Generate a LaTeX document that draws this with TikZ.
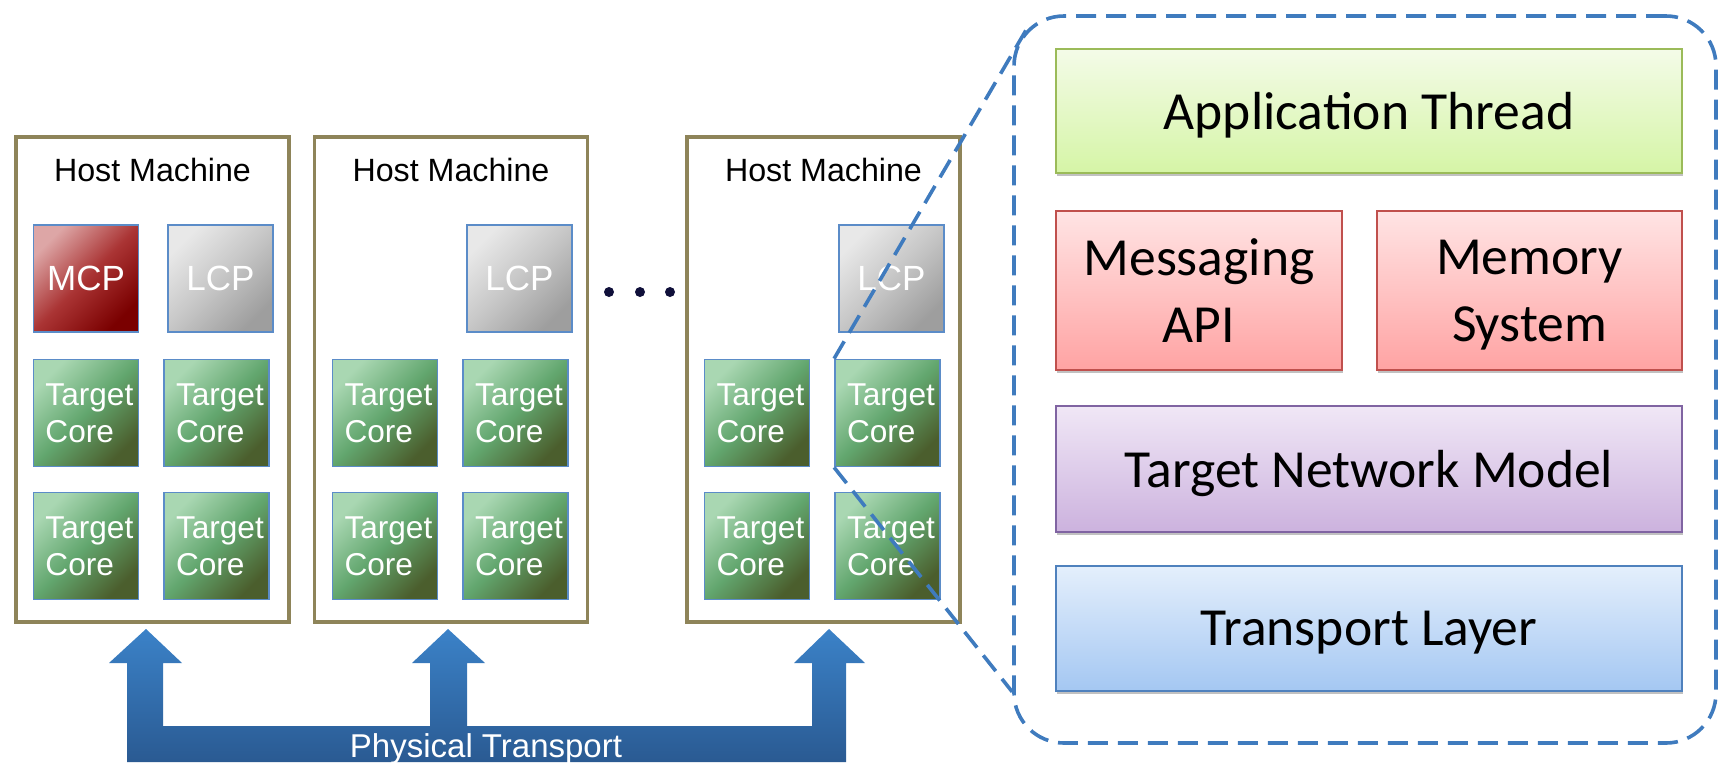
\documentclass[tikz,border=0pt]{standalone}
\usepackage{fontspec}
\setmainfont{Liberation Sans}
\newfontfamily\layerfont{Carlito}
\usetikzlibrary{shadows,calc}

\definecolor{hostline}{HTML}{8E8459}
\definecolor{tileline}{HTML}{5B8CC8}
\definecolor{coreA}{HTML}{A9D7B2}
\definecolor{coreB}{HTML}{62A66E}
\definecolor{coreC}{HTML}{4B5E2D}
\definecolor{mcpA}{HTML}{DDA6A6}
\definecolor{mcpB}{HTML}{AA3434}
\definecolor{mcpC}{HTML}{7A0000}
\definecolor{lcpA}{HTML}{E8E8E8}
\definecolor{lcpB}{HTML}{C6C6C6}
\definecolor{lcpC}{HTML}{9E9E9E}
\definecolor{zoomline}{HTML}{3F7BBE}
\definecolor{dotcol}{HTML}{10103A}
\definecolor{busA}{HTML}{3B82C8}
\definecolor{busB}{HTML}{2A5A92}
\definecolor{appline}{HTML}{9BBB59}
\definecolor{appA}{HTML}{F4FBE8}
\definecolor{appB}{HTML}{D5F5A6}
\definecolor{redline}{HTML}{C0504D}
\definecolor{redA}{HTML}{FFE4E4}
\definecolor{redB}{HTML}{FFA3A3}
\definecolor{purline}{HTML}{8064A2}
\definecolor{purA}{HTML}{F0E7F6}
\definecolor{purB}{HTML}{CCB2DE}
\definecolor{bluline}{HTML}{4F81BD}
\definecolor{bluA}{HTML}{E4EFFC}
\definecolor{bluB}{HTML}{A4C7F2}

\begin{document}
\begin{tikzpicture}[x=0.5pt,y=-0.5pt,
  host/.style={draw=hostline, line width=1.7pt, fill=white,
    minimum width=136.5pt, minimum height=242.5pt, inner sep=0pt},
  hosttitle/.style={font=\fontsize{16.1}{19}\selectfont, inner sep=0pt},
  tile/.style={draw=tileline, line width=0.9pt, minimum width=52.5pt,
    minimum height=53.5pt, inner sep=0pt, text=white},
  core/.style={tile, top color=coreA, bottom color=coreC, middle color=coreB,
    shading angle=45, font=\fontsize{15.8}{18.5}\selectfont, align=left,
    inner xsep=6pt, text width=40.5pt},
  mcp/.style={tile, top color=mcpA, bottom color=mcpC, middle color=mcpB,
    shading angle=45, font=\fontsize{17.5}{20}\selectfont},
  lcp/.style={tile, top color=lcpA, bottom color=lcpC, middle color=lcpB,
    shading angle=45, font=\fontsize{17.5}{20}\selectfont},
  dotnode/.style={circle, fill=dotcol, inner sep=0pt, minimum size=5pt},
  layer/.style={line width=0.8pt, inner sep=0pt, align=center, text depth=0pt,
    font=\layerfont\fontsize{26.8}{33.5}\selectfont,
    drop shadow={shadow xshift=0.4pt, shadow yshift=-1.6pt, opacity=0.35, fill=black!70}},
  zoomed/.style={draw=zoomline, line width=1.8pt, dash pattern=on 10pt off 5pt},
]
\useasboundingbox (0,0) rectangle (1720,762);

% ---- dashed detail panel ----
\node[zoomed, rounded corners=25pt, minimum width=351pt, minimum height=363.5pt,
  inner sep=0pt] (panel) at (1365,379.5) {};

% ---- software layers ----
\node[layer, draw=appline, top color=appA, bottom color=appB,
  minimum width=313pt, minimum height=62pt] (app) at (1369,111) {Application Thread};
\node[layer, draw=redline, top color=redA, bottom color=redB,
  minimum width=143pt, minimum height=79.5pt] (msg) at (1199,290.5) {Messaging\\API};
\node[layer, draw=redline, top color=redA, bottom color=redB,
  minimum width=152.5pt, minimum height=79.5pt] (mem) at (1529.5,290.5) {Memory\\System};
\node[layer, draw=purline, top color=purA, bottom color=purB,
  minimum width=313pt, minimum height=63pt] (tnm) at (1369,469) {Target Network Model};
\node[layer, draw=bluline, top color=bluA, bottom color=bluB,
  minimum width=313pt, minimum height=62.5pt] (tl) at (1369,628.5) {Transport Layer};

% ---- host machines ----
\node[host] (h1) at (152.5,379.5) {};
\node[host] (h2) at (451,379.5) {};
\node[host] (h3) at (823.5,379.5) {};
\node[hosttitle] (t1) at (152.5,170) {Host Machine};
\node[hosttitle] (t2) at (451,170) {Host Machine};
\node[hosttitle] (t3) at (823.5,170) {Host Machine};

% host 1
\node[mcp] (mcp) at (86,278.5) {MCP};
\node[lcp] (lcp1) at (220.5,278.5) {LCP};
\node[core] (c11) at (86,413) {Target\\Core};
\node[core] (c12) at (216.5,413) {Target\\Core};
\node[core] (c13) at (86,546) {Target\\Core};
\node[core] (c14) at (216.5,546) {Target\\Core};
% host 2
\node[lcp] (lcp2) at (519.5,278.5) {LCP};
\node[core] (c21) at (385,413) {Target\\Core};
\node[core] (c22) at (515.5,413) {Target\\Core};
\node[core] (c23) at (385,546) {Target\\Core};
\node[core] (c24) at (515.5,546) {Target\\Core};
% host 3
\node[lcp] (lcp3) at (891.5,278.5) {LCP};
\node[core] (c31) at (757,413) {Target\\Core};
\node[core] (c32) at (887.5,413) {Target\\Core};
\node[core] (c33) at (757,546) {Target\\Core};
\node[core] (c34) at (887.5,546) {Target\\Core};

% ellipsis between hosts
\node[dotnode] (d1) at (609,292) {};
\node[dotnode] (d2) at (640,292) {};
\node[dotnode] (d3) at (670,292) {};

% ---- physical transport bus ----
\shade[top color=busA, bottom color=busB]
  (127,762) -- (127,663) -- (109,663) -- (146,629) -- (182,663) -- (163,663)
  -- (163,726) -- (430,726) -- (430,663) -- (412,663) -- (448,629) -- (485,663)
  -- (467,663) -- (467,726) -- (812,726) -- (812,663) -- (794,663) -- (829,629)
  -- (865,663) -- (846,663) -- (846,762) -- cycle;
\node[text=white, font=\fontsize{16.5}{19}\selectfont, anchor=base, inner sep=0pt]
  (bus) at (486,757) {Physical Transport};

% ---- zoom lines from the host to the detail panel ----
\coordinate (ztop) at ($(panel.north west)+(14.6,14.6)$);
\coordinate (zbot) at ($(panel.south west)+(0,-53)$);
\draw[zoomed] (c32.north west) -- (ztop);
\draw[zoomed] (c32.south west) -- (zbot);
\end{tikzpicture}
\end{document}
